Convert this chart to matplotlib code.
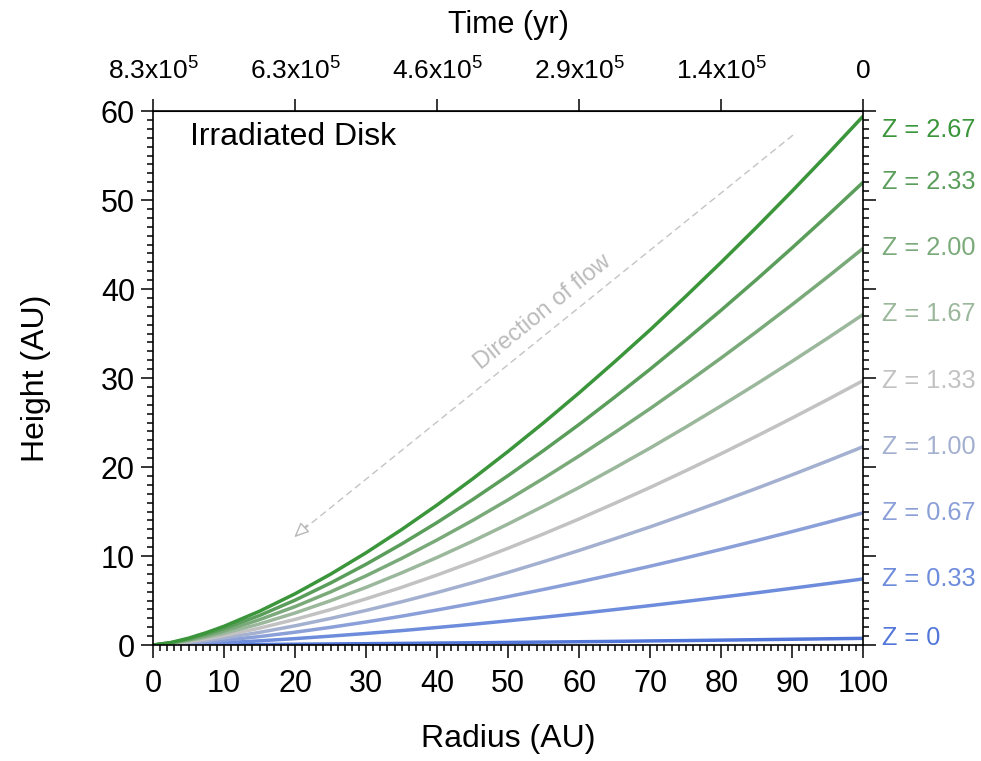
import matplotlib
matplotlib.use("Agg")
import matplotlib.pyplot as plt
import numpy as np

plt.rcParams["font.family"] = ["Liberation Sans", "DejaVu Sans"]
plt.rcParams["mathtext.fontset"] = "custom"
plt.rcParams["mathtext.rm"] = "Liberation Sans"

# radius grid (AU)
radius = [0, 2.5, 5, 7.5, 10, 15, 20, 25, 30, 35, 40, 45, 50,
          55, 60, 65, 70, 75, 80, 85, 90, 95, 100]

# stream heights (AU)
h_z000 = [0, 0.01, 0.02, 0.03, 0.04, 0.06, 0.09, 0.12, 0.15, 0.18, 0.22, 0.25, 0.29,
          0.33, 0.37, 0.41, 0.46, 0.50, 0.55, 0.60, 0.65, 0.70, 0.75]
h_z033 = [0, 0.04, 0.10, 0.17, 0.26, 0.47, 0.72, 1.00, 1.30, 1.62, 1.97, 2.33, 2.72,
          3.12, 3.54, 3.98, 4.43, 4.90, 5.38, 5.87, 6.38, 6.90, 7.43]
h_z067 = [0, 0.07, 0.19, 0.35, 0.53, 0.95, 1.44, 1.99, 2.59, 3.24, 3.94, 4.67, 5.44,
          6.25, 7.08, 7.96, 8.86, 9.79, 10.75, 11.74, 12.75, 13.79, 14.86]
h_z100 = [0, 0.11, 0.29, 0.52, 0.79, 1.42, 2.16, 2.99, 3.89, 4.86, 5.90, 7.00, 8.16,
          9.37, 10.63, 11.94, 13.28, 14.69, 16.13, 17.61, 19.13, 20.69, 22.29]
h_z133 = [0, 0.14, 0.39, 0.69, 1.05, 1.90, 2.88, 3.98, 5.19, 6.48, 7.87, 9.34, 10.88,
          12.49, 14.17, 15.92, 17.71, 19.58, 21.50, 23.48, 25.51, 27.59, 29.72]
h_z167 = [0, 0.18, 0.48, 0.87, 1.32, 2.37, 3.60, 4.98, 6.48, 8.11, 9.84, 11.67, 13.60,
          15.62, 17.71, 19.90, 22.14, 24.48, 26.88, 29.35, 31.89, 34.49, 37.15]
h_z200 = [0, 0.21, 0.58, 1.04, 1.58, 2.85, 4.32, 5.97, 7.78, 9.73, 11.81, 14.00, 16.32,
          18.74, 21.25, 23.87, 26.57, 29.38, 32.26, 35.22, 38.26, 41.38, 44.58]
h_z233 = [0, 0.25, 0.67, 1.22, 1.85, 3.32, 5.04, 6.97, 9.08, 11.35, 13.77, 16.34, 19.04,
          21.86, 24.79, 27.85, 31.00, 34.27, 37.63, 41.09, 44.64, 48.28, 52.01]
h_z267 = [0, 0.28, 0.77, 1.39, 2.11, 3.80, 5.76, 7.96, 10.37, 12.97, 15.74, 18.67, 21.76,
          24.98, 28.34, 31.83, 35.42, 39.17, 43.01, 46.96, 51.02, 55.18, 59.44]

z_labels = ["Z = 0", "Z = 0.33", "Z = 0.67", "Z = 1.00", "Z = 1.33",
            "Z = 1.67", "Z = 2.00", "Z = 2.33", "Z = 2.67"]
heights = [h_z000, h_z033, h_z067, h_z100, h_z133, h_z167, h_z200, h_z233, h_z267]
colors = ["#5377d8", "#6e8cdc", "#8b9fd8", "#a4b0d0", "#c2c2c2",
          "#9cb89c", "#7aaa7a", "#5b9e5b", "#3b953b"]

# top axis: time (yr)
time_pos = [0, 20, 40, 60, 80, 100]
time_labels = ["8.3x10$^{5}$", "6.3x10$^{5}$", "4.6x10$^{5}$",
               "2.9x10$^{5}$", "1.4x10$^{5}$", "0"]

fig = plt.figure(figsize=(9.81, 7.61), dpi=100)
ax = fig.add_axes([0.156, 0.1524, 0.724, 0.7017])

for h, c, lab in zip(heights, colors, z_labels):
    ax.plot(radius, h, color=c, lw=2.5, solid_capstyle="butt")
    ax.text(102.6, min(h[-1], 57.9), lab, color=c, fontsize=18.3,
            va="center", ha="left", clip_on=False)

ax.set_xlim(0, 100)
ax.set_ylim(0, 60)
ax.set_xticks(np.arange(0, 101, 10))
ax.set_yticks(np.arange(0, 61, 10))
ax.set_xticks(np.arange(0, 101, 1), minor=True)
ax.set_yticks(np.arange(0, 61, 1), minor=True)
ax.tick_params(which="both", direction="out", width=1.1, labelsize=22,
               right=True, top=False)
ax.tick_params(which="major", length=9)
ax.tick_params(which="minor", length=4.5)
ax.tick_params(axis="x", which="major", pad=8)
ax.tick_params(axis="y", which="major", pad=4)
for s in ax.spines.values():
    s.set_linewidth(1.2)

ax.set_xlabel("Radius (AU)", fontsize=23, labelpad=18)
ax.set_ylabel("Height (AU)", fontsize=23, labelpad=36)

top = ax.secondary_xaxis("top")
top.set_xticks(time_pos)
top.set_xticklabels(time_labels)
top.tick_params(direction="out", length=9, width=1.1, labelsize=19, pad=11)
top.set_xlabel("Time (yr)", fontsize=22, labelpad=16)

ax.text(0.052, 0.951, "Irradiated Disk", transform=ax.transAxes,
        fontsize=23, va="center", ha="left")

# direction of flow arrow
ax.plot([90.1, 20.6], [57.3, 12.6], color="#c4c4c4", lw=1, ls=(0, (5, 3)))
ax.annotate("", xy=(19.6, 11.9), xytext=(22.0, 13.7),
            arrowprops=dict(arrowstyle="-|>,head_length=0.9,head_width=0.4",
                            color="#b8b8b8", fc="white", lw=1))
ax.text(54.9, 37.4, "Direction of flow", color="#bbbbbb", fontsize=17,
        rotation=39, rotation_mode="anchor", ha="center", va="center")

fig.savefig("out.png", dpi=100)
